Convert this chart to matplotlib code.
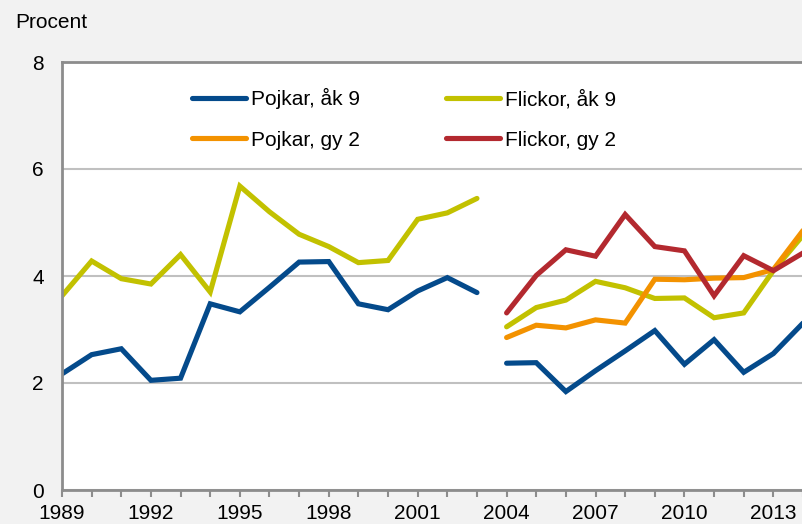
import numpy as np
import matplotlib
matplotlib.use("Agg")
import matplotlib.pyplot as plt

plt.rcParams['font.family'] = ['Liberation Sans', 'DejaVu Sans']

# Data: first survey period (åk 9 only)
years_a = [1989, 1990, 1991, 1992, 1993, 1994, 1995, 1996, 1997, 1998, 1999, 2000, 2001, 2002, 2003]
pojkar_ak9_a = [2.17, 2.53, 2.64, 2.05, 2.09, 3.48, 3.33, 3.79, 4.26, 4.27, 3.48, 3.37, 3.72, 3.97, 3.69]
flickor_ak9_a = [3.63, 4.28, 3.95, 3.85, 4.40, 3.70, 5.68, 5.20, 4.78, 4.55, 4.25, 4.29, 5.06, 5.18, 5.45]

# Second survey period
years_b = [2004, 2005, 2006, 2007, 2008, 2009, 2010, 2011, 2012, 2013, 2014]
pojkar_ak9_b = [2.37, 2.38, 1.84, 2.23, 2.60, 2.98, 2.35, 2.81, 2.20, 2.55, 3.12]
flickor_ak9_b = [3.05, 3.41, 3.55, 3.90, 3.78, 3.58, 3.59, 3.22, 3.31, 4.10, 4.76]
pojkar_gy2_b = [2.85, 3.08, 3.03, 3.18, 3.12, 3.94, 3.93, 3.96, 3.97, 4.12, 4.85]
flickor_gy2_b = [3.31, 4.01, 4.49, 4.37, 5.15, 4.55, 4.47, 3.63, 4.38, 4.10, 4.43]

xtick_years = [1989, 1992, 1995, 1998, 2001, 2004, 2007, 2010, 2013]
yticks = [0, 2, 4, 6, 8]

c_blue = '#044a8b'
c_yellow = '#c2c100'
c_orange = '#f39200'
c_red = '#b3292f'

W, H = 803, 524
fig = plt.figure(figsize=(W / 100, H / 100), dpi=100)
fig.patch.set_facecolor('#f2f2f2')

ax = fig.add_axes([62 / W, (H - 490) / H, 741 / W, 428 / H])
ax.set_facecolor('white')

lw = 3.7
kw = dict(lw=lw, solid_capstyle='round', solid_joinstyle='miter', clip_on=True)
l1, = ax.plot(years_a, pojkar_ak9_a, color=c_blue, label='Pojkar, åk 9', **kw)
l2, = ax.plot(years_a, flickor_ak9_a, color=c_yellow, label='Flickor, åk 9', **kw)
ax.plot(years_b, pojkar_ak9_b, color=c_blue, **kw)
ax.plot(years_b, flickor_ak9_b, color=c_yellow, **kw)
l3, = ax.plot(years_b, pojkar_gy2_b, color=c_orange, label='Pojkar, gy 2', **kw)
l4, = ax.plot(years_b, flickor_gy2_b, color=c_red, label='Flickor, gy 2', **kw)

ax.set_xlim(1989, 1989 + 741 / 29.8)
ax.set_ylim(0, 8)
ax.set_yticks(yticks)
ax.set_yticklabels([str(v) for v in yticks])
ax.set_xticks(xtick_years)
ax.set_xticklabels([str(v) for v in xtick_years])
ax.set_xticks(list(range(1989, 2015)), minor=True)

ax.grid(axis='y', color='#c0c0c0', lw=1.5, zorder=0)
ax.set_axisbelow(True)

for s in ['left', 'bottom', 'top']:
    ax.spines[s].set_color('#8c8c8c')
    ax.spines[s].set_linewidth(2)
ax.spines['right'].set_visible(False)

ax.tick_params(axis='y', length=0, pad=13, labelsize=15, colors='black')
ax.tick_params(axis='x', which='both', direction='out', length=5, width=1.5,
               color='#8c8c8c', pad=5, labelsize=15, labelcolor='black')

leg = ax.legend(handles=[l1, l3, l2, l4], ncol=2, loc='upper left',
                bbox_to_anchor=((192 - 62) / 741, (490 - 88) / 428),
                frameon=False, fontsize=15, handlelength=2.6, handletextpad=0.25,
                columnspacing=4.1, labelspacing=1.04, borderaxespad=0, borderpad=0)

fig.text(15 / W, 1 - 28 / H, 'Procent', fontsize=15, ha='left', va='baseline')

fig.savefig('out.png', dpi=100, facecolor=fig.get_facecolor())
